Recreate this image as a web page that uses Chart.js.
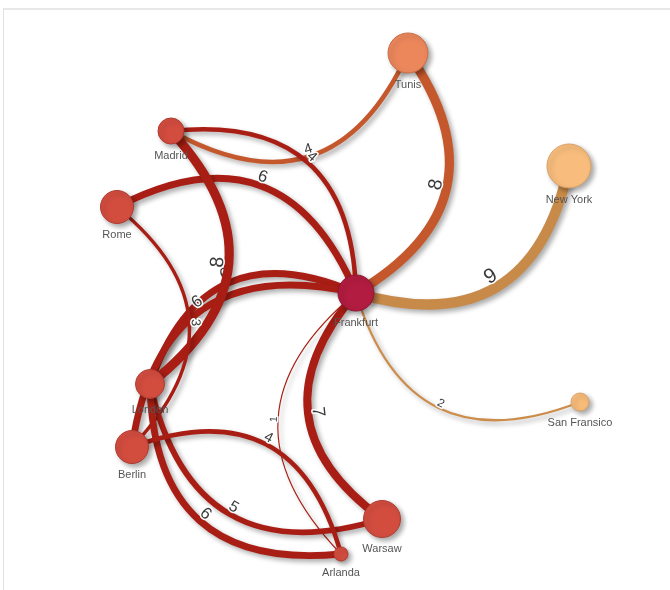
<!DOCTYPE html>
<html><head><meta charset="utf-8">
<script src="https://cdn.jsdelivr.net/npm/chart.js@4.4.1/dist/chart.umd.min.js"></script>
<style>
html,body{margin:0;padding:0;background:#fff;}
#wrap{position:relative;width:670px;height:590px;overflow:hidden;}
#frame{position:absolute;left:3px;top:8px;width:700px;height:620px;border-top:2px solid #e8e8e8;border-left:1px solid #e2e2e2;}
canvas{position:absolute;left:0;top:0;}
</style></head><body>
<div id="wrap"><div id="frame"></div><canvas id="c" width="670" height="590"></canvas></div>
<script>
// ---- data ----
const nodeNames = ['Tunis','Madrid','Rome','New York','Frankfurt','London','Berlin','San Fransico','Warsaw','Arlanda'];
const nodeX = [408,171,117,569,356,150,132,580,382,341];
const nodeY = [53,131,207,166,293,384,447,402,519,554];
const nodeWeight = [20,13,16.5,22,18,14.5,16.5,9,18.5,7];
const edgeFrom = ['Frankfurt','Madrid','Frankfurt','Frankfurt','Frankfurt','Frankfurt','Frankfurt','Frankfurt','Frankfurt','Frankfurt','London','Berlin','London','London','Arlanda'];
const edgeTo   = ['London','Tunis','Tunis','New York','San Fransico','Warsaw','Arlanda','Rome','Madrid','Berlin','Madrid','Rome','Warsaw','Arlanda','Berlin'];
const edgeValues = [6,4,8,9,2,7,1,6,4,6,8,3,5,6,4];

// ---- styles ----
const nodeColors = ['#EC875C','#D34D3F','#D34D3F','#F8BD7D','#B21C40','#D34D3F','#D34D3F','#F8BC7A','#D34D3F','#D34D3F'];
const nodeBorders = ['#C96F48','#B03C30','#B03C30','#D9A066','#8E1532','#B03C30','#B03C30','#D9A066','#B03C30','#B03C30'];
const edgeColorsByTarget = ['#C4582C','#A91E14','#A91E14','#C88A48','#A91E14','#A91E14','#A91E14','#CC8D4A','#A91E14','#A91E14'];
const BEND = 0.27;

function idx(n){return nodeNames.indexOf(n);}

const networkPlugin = {
  id:'network',
  beforeDatasetsDraw(chart){
    const ctx = chart.ctx, xs = chart.scales.x, ys = chart.scales.y;
    for(let i=0;i<edgeValues.length;i++){
      const a=idx(edgeFrom[i]), b=idx(edgeTo[i]);
      const x0=xs.getPixelForValue(nodeX[a]), y0=ys.getPixelForValue(nodeY[a]);
      const x1=xs.getPixelForValue(nodeX[b]), y1=ys.getPixelForValue(nodeY[b]);
      const dx=x1-x0, dy=y1-y0, d=Math.hypot(dx,dy);
      const px=-dy/d, py=dx/d;
      const mx=(x0+x1)/2, my=(y0+y1)/2;
      const cx=mx+2*BEND*d*px, cy=my+2*BEND*d*py;
      const lw = Math.max(1, edgeValues[i]*1.15);
      ctx.save();
      ctx.shadowColor='rgba(0,0,0,0.33)'; ctx.shadowBlur=5; ctx.shadowOffsetX=3; ctx.shadowOffsetY=3;
      ctx.strokeStyle=edgeColorsByTarget[b]; ctx.lineWidth=lw; ctx.lineCap='butt';
      ctx.beginPath(); ctx.moveTo(x0,y0); ctx.quadraticCurveTo(cx,cy,x1,y1); ctx.stroke();
      ctx.restore();
      const lx=mx+BEND*d*px, ly=my+BEND*d*py;
      let ang=Math.atan2(dy,dx);
      if(ang>Math.PI/2) ang-=Math.PI; else if(ang<-Math.PI/2) ang+=Math.PI;
      const fs=9+edgeValues[i]*1.3;
      const off=lw/2+fs*0.33;
      const ux=Math.sin(ang), uy=-Math.cos(ang);
      ctx.save();
      ctx.translate(lx+ux*off, ly+uy*off);
      ctx.rotate(ang);
      ctx.font=fs+'px "Liberation Sans", Arial, sans-serif';
      ctx.textAlign='center'; ctx.textBaseline='middle';
      ctx.lineWidth=3; ctx.strokeStyle='#fff'; ctx.lineJoin='round';
      ctx.strokeText(String(edgeValues[i]),0,0);
      ctx.fillStyle='#3a3a3a';
      ctx.fillText(String(edgeValues[i]),0,0);
      ctx.restore();
    }
  },
  beforeDatasetDraw(chart){
    const ctx=chart.ctx;
    ctx.save();
    ctx.shadowColor='rgba(0,0,0,0.35)'; ctx.shadowBlur=5; ctx.shadowOffsetX=3; ctx.shadowOffsetY=3;
  },
  afterDatasetDraw(chart){ chart.ctx.restore(); },
  afterDatasetsDraw(chart){
    const ctx = chart.ctx, xs = chart.scales.x, ys = chart.scales.y;
    ctx.save();
    ctx.font='11px "Liberation Sans", Arial, sans-serif';
    ctx.fillStyle='#555';
    ctx.textAlign='center'; ctx.textBaseline='middle';
    nodeNames.forEach((n,i)=>{
      ctx.fillText(n, xs.getPixelForValue(nodeX[i]), ys.getPixelForValue(nodeY[i]) + nodeWeight[i] + 11.5);
    });
    ctx.restore();
  }
};

new Chart(document.getElementById('c'), {
  type:'scatter',
  data:{ datasets:[{
    data: nodeX.map((v,i)=>({x:v,y:nodeY[i]})),
    pointRadius: nodeWeight,
    pointHoverRadius: nodeWeight,
    pointBackgroundColor: nodeColors,
    pointBorderColor: nodeBorders,
    pointBorderWidth: 1,
    clip: false
  }]},
  options:{
    responsive:false, animation:false, devicePixelRatio:1, events:[],
    layout:{padding:0, autoPadding:false},
    plugins:{legend:{display:false}, tooltip:{enabled:false}},
    scales:{
      x:{type:'linear', min:0, max:670, display:false},
      y:{type:'linear', min:0, max:590, reverse:true, display:false}
    }
  },
  plugins:[networkPlugin]
});
</script>
</body></html>
